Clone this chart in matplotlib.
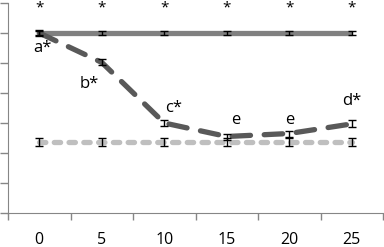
import matplotlib
matplotlib.use("Agg")
import matplotlib.pyplot as plt
import numpy as np

categories = ["0", "5", "10", "15", "20", "25"]
solid_vals = [6.0, 6.0, 6.0, 6.0, 6.0, 6.0]
solid_err = [0.07, 0.07, 0.07, 0.07, 0.07, 0.07]
dark_vals = [6.0, 5.02, 3.0, 2.55, 2.65, 2.97]
dark_err = [0.1, 0.1, 0.1, 0.1, 0.1, 0.12]
light_vals = [2.37, 2.37, 2.37, 2.37, 2.37, 2.37]
light_err = [0.12, 0.12, 0.12, 0.12, 0.12, 0.12]
star_labels = ["*", "*", "*", "*", "*", "*"]
dark_labels = ["a*", "b*", "c*", "e", "e", "d*"]
dark_label_pos = [(0.05, 5.5), (-0.2, 4.3), (0.15, 3.5), (0.15, 3.1), (0.0, 3.1), (0.0, 3.75)]

plt.rcParams['font.family'] = ['Open Sans', 'DejaVu Sans']
fig = plt.figure(figsize=(3.84, 2.47), dpi=100)
ax = fig.add_axes([8/384, 34/247, 375/384, 210/247])
x = np.arange(len(categories))

ax.plot(x, solid_vals, color='#808080', lw=3.8, solid_capstyle='butt', zorder=2)
ax.errorbar(x, solid_vals, yerr=solid_err, fmt='none', ecolor='black', elinewidth=1, capsize=3, capthick=1, zorder=3)

ax.plot(x, light_vals, color='#bfbfbf', lw=3.8, dashes=(1.2, 1.6), dash_capstyle='round', zorder=2)
ax.errorbar(x, light_vals, yerr=light_err, fmt='none', ecolor='black', elinewidth=1, capsize=3, capthick=1, zorder=3)

ax.plot(x, dark_vals, color='#595959', lw=3.8, dashes=(3.5, 2.6), dash_capstyle='round', zorder=2)
ax.errorbar(x, dark_vals, yerr=dark_err, fmt='none', ecolor='black', elinewidth=1, capsize=3, capthick=1, zorder=3)

for xi, s in zip(x, star_labels):
    ax.text(xi, 6.85, s, ha='center', va='center', fontsize=11)
for xi, s, (dx, yy) in zip(x, dark_labels, dark_label_pos):
    ax.text(xi + dx, yy, s, ha='center', va='center', fontsize=12)

ax.set_xlim(-0.5, 5.5)
ax.set_ylim(0, 7)
ax.set_xticks(np.arange(-0.5, 6, 1))
ax.set_xticklabels([])
ax.set_xticks(x, minor=True)
ax.set_xticklabels(categories, minor=True, fontsize=11.5)
ax.tick_params(axis='x', which='minor', length=0, pad=14)
ax.tick_params(axis='x', which='major', length=5, color='#868686', width=1)
ax.set_yticks(np.arange(0, 8, 1))
ax.set_yticklabels([])
ax.tick_params(axis='y', length=6, color='#868686', width=1)
for s in ['top', 'right']:
    ax.spines[s].set_visible(False)
for s in ['left', 'bottom']:
    ax.spines[s].set_color('#868686')
fig.savefig('out.png', dpi=100)
